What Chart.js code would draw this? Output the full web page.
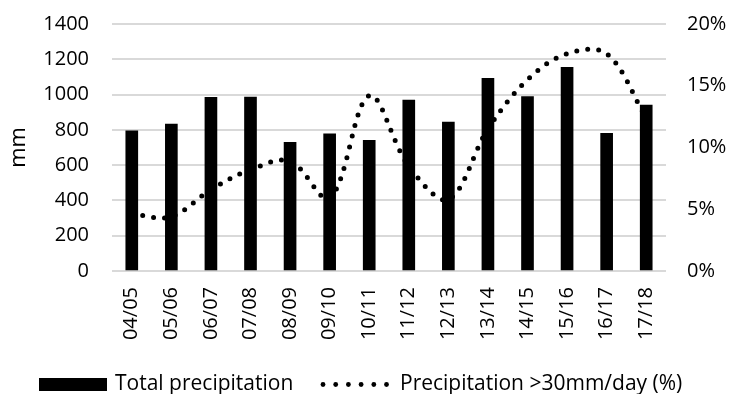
<!DOCTYPE html>
<html>
<head>
<meta charset="utf-8">
<script src="https://cdn.jsdelivr.net/npm/chart.js@4/dist/chart.umd.min.js"></script>
<style>
  html, body { margin: 0; padding: 0; background: #fff; }
  #wrap { position: relative; width: 731px; height: 394px; overflow: hidden; }
  #chart { position: absolute; left: 0; top: 0; }
  .legend-box { position: absolute; left: 39px; top: 378px; width: 68px; height: 13px; background: #000; }
  .legend-text { position: absolute; top: 372px; line-height: 21px; font-family: "Open Sans", sans-serif; font-size: 21px; color: #000; white-space: nowrap; }
  #legendDots { position: absolute; left: 318px; top: 378px; }
</style>
</head>
<body>
<div id="wrap">
  <canvas id="chart" width="731" height="394"></canvas>
  <div class="legend-box"></div>
  <div class="legend-text" style="left:115px">Total precipitation</div>
  <svg id="legendDots" width="76" height="13"></svg>
  <div class="legend-text" style="left:400px">Precipitation &gt;30mm/day (%)</div>
</div>
<script>
// Hydrological years
const seasons = ['04/05', '05/06', '06/07', '07/08', '08/09', '09/10', '10/11',
                 '11/12', '12/13', '13/14', '14/15', '15/16', '16/17', '17/18'];
// Total precipitation per season (mm)
const totalPrecip = [794, 833, 984, 986, 730, 778, 740, 969, 844, 1092, 988, 1154, 781, 940];
// Share of precipitation falling on days above 30 mm (%)
const heavyShare = [4.6, 4.4, 6.6, 8.2, 8.9, 5.9, 14.2, 8.5, 5.8, 11.5, 15.5, 17.6, 17.6, 12.4];
// Axis ticks
const mmTicks = [0, 200, 400, 600, 800, 1000, 1200, 1400];
const pctTicks = [0, 5, 10, 15, 20];

const FONT = '"Open Sans", sans-serif';
const GRID = '#d9d9d9';

// Legend swatch for the dotted series
(function () {
  const svg = document.getElementById('legendDots');
  const ns = 'http://www.w3.org/2000/svg';
  for (let i = 0; i < 6; i++) {
    const c = document.createElementNS(ns, 'circle');
    c.setAttribute('cx', 5 + i * 12.7);
    c.setAttribute('cy', 6.5);
    c.setAttribute('r', 2.4);
    c.setAttribute('fill', '#000');
    svg.appendChild(c);
  }
})();

// Vertical axes: fixed width, and no extra top/bottom padding from the tick gap
function fitVertical(width) {
  return (s) => {
    s.width = width;
    s.paddingTop = 0;
    s.paddingBottom = 0;
  };
}

new Chart(document.getElementById('chart'), {
  data: {
    labels: seasons,
    datasets: [
      {
        type: 'line',
        label: 'Precipitation >30mm/day (%)',
        data: heavyShare,
        yAxisID: 'y1',
        borderColor: '#000',
        backgroundColor: '#000',
        borderWidth: 5,
        borderDash: [0, 11],
        borderCapStyle: 'round',
        tension: 0.35,
        pointRadius: 0,
        fill: false,
        order: 1
      },
      {
        type: 'bar',
        label: 'Total precipitation',
        data: totalPrecip,
        yAxisID: 'y',
        backgroundColor: '#000',
        barThickness: 12,
        order: 2
      }
    ]
  },
  options: {
    responsive: false,
    animation: false,
    layout: { padding: { top: 24, bottom: 0, left: 0, right: 0 } },
    plugins: {
      legend: { display: false },
      tooltip: { enabled: false }
    },
    scales: {
      x: {
        grid: { display: false, drawTicks: false },
        border: { display: false },
        ticks: {
          color: '#000',
          font: { family: FONT, size: 20 },
          minRotation: 90,
          maxRotation: 90,
          padding: 16,
          autoSkip: false
        },
        afterFit: (s) => { s.height = 123; s.paddingLeft = 0; s.paddingRight = 0; }
      },
      y: {
        position: 'left',
        min: 0,
        max: 1400,
        afterBuildTicks: (s) => { s.ticks = mmTicks.map(v => ({ value: v })); },
        grid: { color: GRID, lineWidth: 2, drawTicks: false },
        border: { display: false },
        ticks: {
          color: '#000',
          font: { family: FONT, size: 20 },
          padding: 23,
          callback: (v) => String(v)
        },
        title: {
          display: true,
          text: 'mm',
          color: '#000',
          font: { family: FONT, size: 22 },
          padding: { top: 6, bottom: 0 }
        },
        afterFit: fitVertical(112)
      },
      y1: {
        position: 'right',
        min: 0,
        max: 20,
        afterBuildTicks: (s) => { s.ticks = pctTicks.map(v => ({ value: v })); },
        grid: { display: false, drawTicks: false },
        border: { display: false },
        ticks: {
          color: '#000',
          font: { family: FONT, size: 20 },
          padding: 21,
          callback: (v) => v + '%'
        },
        afterFit: fitVertical(65)
      }
    }
  }
});
</script>
</body>
</html>
